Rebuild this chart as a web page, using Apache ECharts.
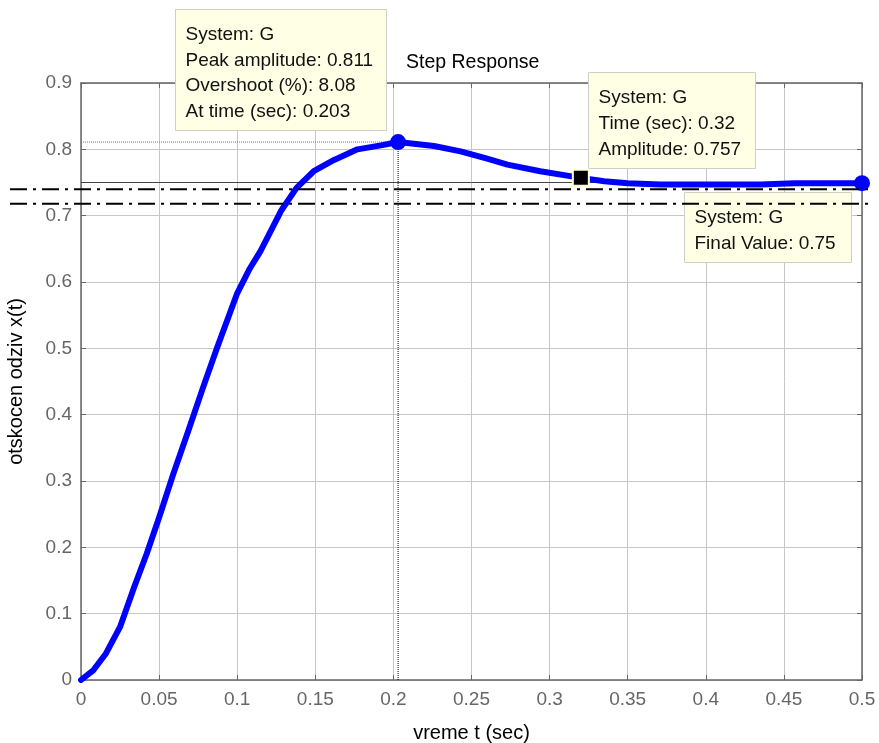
<!DOCTYPE html>
<html>
<head>
<meta charset="utf-8">
<script src="https://cdn.jsdelivr.net/npm/echarts@6/dist/echarts.min.js"></script>
<style>html,body{margin:0;padding:0;background:#fff}#c{width:879px;height:743px}</style>
</head>
<body>
<div id="c"></div>
<script>
// ---- data ----
const time = [0, 0.008, 0.016, 0.025, 0.034, 0.042, 0.05, 0.059, 0.068, 0.078, 0.087, 0.1, 0.108, 0.115, 0.128, 0.138, 0.149, 0.162, 0.177, 0.192, 0.203, 0.226, 0.243, 0.26, 0.273, 0.294, 0.32, 0.335, 0.35, 0.371, 0.4, 0.435, 0.457, 0.5];
const amplitude = [0, 0.015, 0.04, 0.08, 0.14, 0.19, 0.245, 0.31, 0.371, 0.44, 0.50, 0.583, 0.62, 0.647, 0.707, 0.742, 0.767, 0.784, 0.80, 0.806, 0.811, 0.805, 0.797, 0.786, 0.777, 0.767, 0.757, 0.752, 0.749, 0.747, 0.747, 0.747, 0.749, 0.749];
const peak = {t: 0.203, v: 0.811, overshoot: 8.08};
const probe = {t: 0.32, v: 0.757};
const finalValue = 0.75;
const settleBands = [0.740, 0.718];
const xTicks = [0, 0.05, 0.1, 0.15, 0.2, 0.25, 0.3, 0.35, 0.4, 0.45, 0.5];
const yTicks = [0, 0.1, 0.2, 0.3, 0.4, 0.5, 0.6, 0.7, 0.8, 0.9];
const tipPeak = ['System: G', 'Peak amplitude: ' + peak.v, 'Overshoot (%): ' + peak.overshoot, 'At time (sec): ' + peak.t];
const tipProbe = ['System: G', 'Time (sec): ' + probe.t, 'Amplitude: ' + probe.v];
const tipFinal = ['System: G', 'Final Value: ' + finalValue];

const FONT = 'Liberation Sans, Arial, Helvetica, sans-serif';
const chart = echarts.init(document.getElementById('c'));
const G = {left: 81, right: 17, top: 83, bottom: 63};

function tipBox(x, y, w, h, lines, lineH, padTop) {
  return {
    type: 'group', left: x, top: y, z: 50,
    children: [
      {type: 'rect', shape: {x: 0, y: 0, width: w, height: h},
       style: {fill: '#ffffe6', stroke: '#cfcfc4', lineWidth: 1}, z: 50},
      {type: 'text', x: 10, y: padTop, z: 51,
       style: {text: lines.join('\n'), font: '19px ' + FONT, fill: '#111', lineHeight: lineH}}
    ]
  };
}

const series = [
  {type: 'line', xAxisIndex: 0, yAxisIndex: 0, data: [[xTicks[0], finalValue], [xTicks[xTicks.length - 1], finalValue]],
   symbol: 'none', lineStyle: {color: '#444', width: 1}, z: 3, silent: true},
  {type: 'line', xAxisIndex: 0, yAxisIndex: 0, data: [[0, peak.v], [peak.t, peak.v]],
   symbol: 'none', lineStyle: {color: '#777', width: 1, type: [1, 1]}, z: 3, silent: true},
  {type: 'line', xAxisIndex: 0, yAxisIndex: 0, data: [[peak.t, 0], [peak.t, peak.v]],
   symbol: 'none', lineStyle: {color: '#000', width: 1, type: [1, 1]}, z: 3, silent: true},
  {type: 'line', xAxisIndex: 0, yAxisIndex: 0, data: time.map((t, i) => [t, amplitude[i]]),
   symbol: 'none', lineStyle: {color: '#0000ff', width: 6, join: 'round', cap: 'round'}, z: 10, silent: true},
  {type: 'scatter', xAxisIndex: 0, yAxisIndex: 0,
   data: [[peak.t, peak.v], [time[time.length - 1], amplitude[amplitude.length - 1]]],
   symbol: 'circle', symbolSize: 16, itemStyle: {color: '#0000ff', opacity: 1}, z: 12, silent: true},
  {type: 'scatter', xAxisIndex: 0, yAxisIndex: 0, data: [[probe.t, probe.v]],
   symbol: 'rect', symbolSize: 16, itemStyle: {color: '#000', borderColor: '#ffffd8', borderWidth: 2, opacity: 1}, z: 60, silent: true},
  ...settleBands.map(b => ({type: 'line', xAxisIndex: 2, yAxisIndex: 2, data: [[0, b], [1, b]],
   symbol: 'none', lineStyle: {color: '#000', width: 2, type: [17, 6, 3, 6]}, z: 70, silent: true}))
];

chart.setOption({
  animation: false,
  textStyle: {fontFamily: FONT},
  title: {text: 'Step Response', left: 401, top: 48,
          textStyle: {fontSize: 19.5, fontWeight: 'normal', color: '#000', fontFamily: FONT}},
  grid: [
    {left: G.left, right: G.right, top: G.top, bottom: G.bottom, containLabel: false, outerBoundsMode: 'none'},
    {left: 10, right: 6, top: G.top, bottom: G.bottom, containLabel: false, outerBoundsMode: 'none'}
  ],
  xAxis: [
    {type: 'value', gridIndex: 0, min: 0, max: 0.5, interval: 0.05, position: 'bottom',
     name: 'vreme t (sec)', nameLocation: 'middle', nameGap: 43,
     nameTextStyle: {fontSize: 20, color: '#000', fontFamily: FONT},
     axisLine: {onZero: false, lineStyle: {color: '#666', width: 1.5}},
     axisTick: {inside: true, length: 5, lineStyle: {color: '#666'}},
     axisLabel: {fontSize: 19, color: '#666', margin: 10, fontFamily: FONT,
                 formatter: v => String(+v.toFixed(2))},
     splitLine: {show: true, lineStyle: {color: '#c6c6c6', width: 1}}},
    {type: 'value', gridIndex: 0, min: 0, max: 0.5, interval: 0.05, position: 'top',
     axisLine: {show: true, onZero: false, lineStyle: {color: '#666', width: 1.5}},
     axisTick: {inside: true, length: 5, lineStyle: {color: '#666'}},
     axisLabel: {show: false}, splitLine: {show: false}},
    {type: 'value', gridIndex: 1, min: 0, max: 1, show: false}
  ],
  yAxis: [
    {type: 'value', gridIndex: 0, min: 0, max: 0.9, interval: 0.1, position: 'left',
     name: 'otskocen odziv x(t)', nameLocation: 'middle', nameGap: 55, nameRotate: 90,
     nameTextStyle: {fontSize: 20, color: '#000', fontFamily: FONT},
     axisLine: {show: true, onZero: false, lineStyle: {color: '#666', width: 1.5}},
     axisTick: {show: true, inside: true, length: 5, lineStyle: {color: '#666'}},
     axisLabel: {fontSize: 19, color: '#666', margin: 9, fontFamily: FONT,
                 formatter: v => String(+v.toFixed(1))},
     splitLine: {show: true, lineStyle: {color: '#c6c6c6', width: 1}}},
    {type: 'value', gridIndex: 0, min: 0, max: 0.9, interval: 0.1, position: 'right',
     axisLine: {show: true, onZero: false, lineStyle: {color: '#666', width: 1.5}},
     axisTick: {show: true, inside: true, length: 5, lineStyle: {color: '#666'}},
     axisLabel: {show: false}, splitLine: {show: false}},
    {type: 'value', gridIndex: 1, min: 0, max: 0.9, show: false}
  ],
  graphic: [
    tipBox(175, 9, 211, 121, tipPeak, 25.5, 13),
    tipBox(588, 72, 167, 96, tipProbe, 26, 12),
    tipBox(684, 192, 167, 70, tipFinal, 26.5, 12)
  ],
  series: series
});
</script>
</body>
</html>
